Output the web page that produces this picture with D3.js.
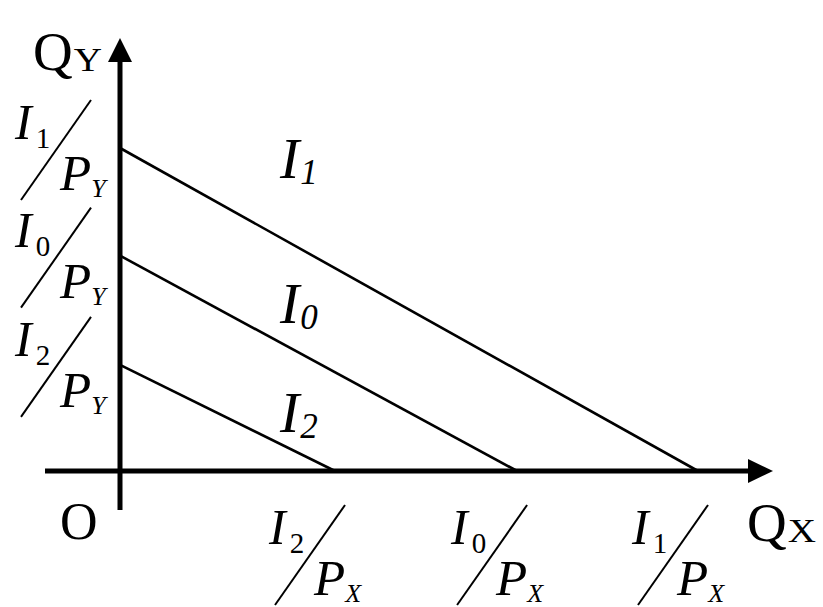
<!DOCTYPE html>
<html><head><meta charset="utf-8">
<script src="https://cdn.jsdelivr.net/npm/d3@7"></script>
<style>
html,body{margin:0;padding:0;background:#fff;}
text{font-family:"Liberation Serif","Times New Roman",serif;fill:#000;}
</style></head>
<body><svg id="c" width="823" height="607"></svg>
<script>
// ---- data ----
const lineNames = ["1", "0", "2"];          // budget lines I1, I0, I2
const xIntercepts = [10, 6.87, 3.72];       // I / P_X (quantity of X)
const yIntercepts = [3, 2, 0.985];          // I / P_Y (quantity of Y)
const axisLabels = {x: "X", y: "Y", origin: "O"};

const svg = d3.select("#c");
const x = d3.scaleLinear().domain([0, 10]).range([120, 698]);
const y = d3.scaleLinear().domain([0, 3]).range([471, 148]);

// budget lines
lineNames.forEach((n, i) => {
  svg.append("line")
    .attr("x1", x(0)).attr("y1", y(yIntercepts[i]))
    .attr("x2", x(xIntercepts[i])).attr("y2", y(0))
    .attr("stroke", "#000").attr("stroke-width", 2.6);
});

// axes
const xMin = x.invert(45), xMax = x.invert(750);
const yMin = y.invert(510), yMax = y.invert(60);
svg.append("line").attr("x1", x(xMin)).attr("x2", x(xMax)).attr("y1", y(0)).attr("y2", y(0))
  .attr("stroke", "#000").attr("stroke-width", 5);
svg.append("line").attr("x1", x(0)).attr("x2", x(0)).attr("y1", y(yMin)).attr("y2", y(yMax))
  .attr("stroke", "#000").attr("stroke-width", 5);
// arrow heads
const ax = x(0), ay = y(0);
svg.append("path").attr("d", `M${ax},38 L${ax-12},62 L${ax+12},62 Z`).attr("fill", "#000");
svg.append("path").attr("d", `M773,${ay} L748,${ay-12} L748,${ay+12} Z`).attr("fill", "#000");

// axis titles
function qLabel(tx, ty, sub) {
  const t = svg.append("text").attr("x", tx).attr("y", ty).style("font-size", "55px").text("Q");
  const bb = t.node().getBBox();
  svg.append("text").attr("transform", `translate(${bb.x + bb.width + 1},${ty + 1}) scale(1.15,1)`)
    .style("font-size", "34px").text(sub);
}
qLabel(33, 70, axisLabels.y);
qLabel(747, 541, axisLabels.x);
svg.append("text").attr("x", 60).attr("y", 539).style("font-size", "52px").text(axisLabels.origin);

// fraction labels I_n / P_k
function fraction(cx, cy, n, k) {
  svg.append("line").attr("x1", cx + 35).attr("y1", cy - 50).attr("x2", cx - 35).attr("y2", cy + 50)
    .attr("stroke", "#000").attr("stroke-width", 2);
  const t1 = svg.append("text").attr("x", cx - 41).attr("y", cy - 11);
  t1.append("tspan").style("font-size", "50px").style("font-style", "italic").text("I");
  t1.append("tspan").style("font-size", "29px").attr("dx", 4).attr("dy", 9).text(n);
  const t2 = svg.append("text").attr("x", cx + 4).attr("y", cy + 40);
  t2.append("tspan").style("font-size", "51px").style("font-style", "italic").text("P");
  t2.append("tspan").style("font-size", "26px").style("font-style", "italic").attr("dx", 0).attr("dy", 7).text(k);
}
lineNames.forEach((n, i) => {
  fraction(x(0) - 64, y(yIntercepts[i]) + 2, n, axisLabels.y);
  fraction(x(xIntercepts[i]) - 25, y(0) + 84, n, axisLabels.x);
});

// line labels inside plot
const labelOffsets = [30, 67, 67];
lineNames.forEach((n, i) => {
  const t = svg.append("text").attr("x", 280).attr("y", y(yIntercepts[i]) + labelOffsets[i])
    .style("font-style", "italic");
  t.append("tspan").style("font-size", "58px").text("I");
  t.append("tspan").style("font-size", "35px").attr("dx", 1).attr("dy", 6).text(n);
});
</script></body></html>
